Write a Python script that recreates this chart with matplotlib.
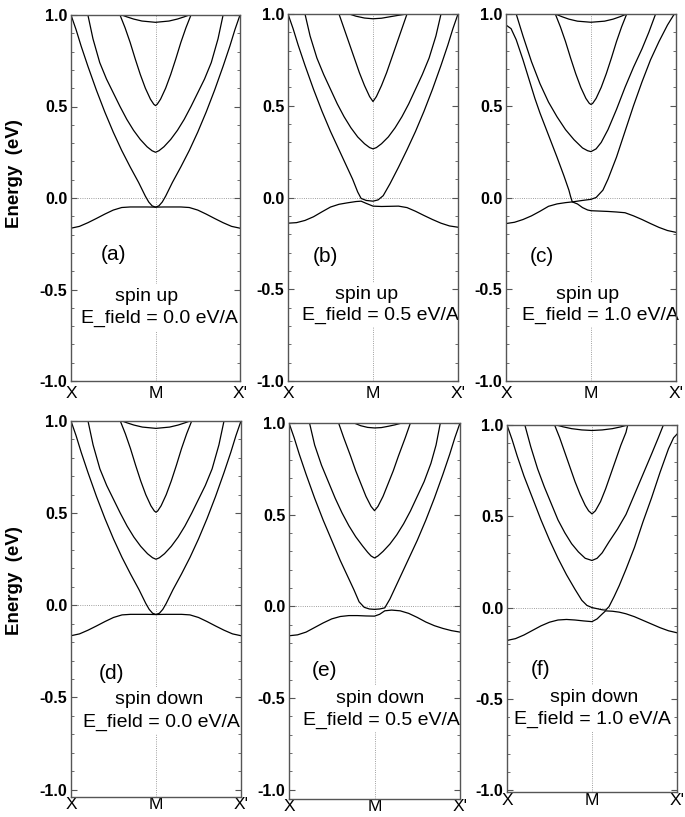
import matplotlib
matplotlib.use("Agg")
import matplotlib.pyplot as plt
from matplotlib.ticker import MultipleLocator

plt.rcParams['font.family'] = ['Liberation Sans', 'DejaVu Sans']
plt.rcParams['axes.unicode_minus'] = False

# k runs from X (0) through M (0.5) to X' (1); energies in eV
# (a) spin up, E = 0.0
a_b1 = [(0, -0.165), (0.05, -0.155), (0.1, -0.135), (0.15, -0.112), (0.2, -0.088), (0.25, -0.066),
        (0.3, -0.052), (0.35, -0.049), (0.4, -0.049), (0.45, -0.049), (0.5, -0.05), (0.55, -0.049),
        (0.6, -0.049), (0.65, -0.049), (0.7, -0.052), (0.75, -0.066), (0.8, -0.088), (0.85, -0.112),
        (0.9, -0.135), (0.95, -0.155), (1.0, -0.165)]
a_b2 = [(0, 1.0), (0.03, 0.92), (0.06, 0.83), (0.1, 0.72), (0.15, 0.59), (0.2, 0.47), (0.25, 0.36),
        (0.3, 0.26), (0.35, 0.17), (0.4, 0.085), (0.44, 0.01), (0.46, -0.022), (0.48, -0.043),
        (0.5, -0.05), (0.52, -0.043), (0.54, -0.022), (0.56, 0.01), (0.6, 0.085), (0.65, 0.17),
        (0.7, 0.26), (0.75, 0.36), (0.8, 0.47), (0.85, 0.59), (0.9, 0.72), (0.94, 0.83),
        (0.97, 0.92), (1.0, 1.0)]
a_b3 = [(0.1, 1.0), (0.13, 0.87), (0.17, 0.74), (0.21, 0.65), (0.25, 0.575), (0.29, 0.5), (0.33, 0.43),
        (0.37, 0.37), (0.41, 0.32), (0.45, 0.28), (0.48, 0.258), (0.5, 0.25), (0.52, 0.258),
        (0.55, 0.28), (0.59, 0.32), (0.63, 0.37), (0.67, 0.43), (0.71, 0.5), (0.75, 0.575),
        (0.79, 0.65), (0.83, 0.74), (0.87, 0.87), (0.9, 1.0)]
a_b4 = [(0.29, 1.0), (0.32, 0.93), (0.35, 0.85), (0.38, 0.76), (0.41, 0.675), (0.44, 0.6), (0.47, 0.54),
        (0.49, 0.512), (0.5, 0.505), (0.51, 0.512), (0.53, 0.54), (0.56, 0.6), (0.59, 0.675),
        (0.62, 0.76), (0.65, 0.85), (0.68, 0.93), (0.71, 1.0)]
a_b5 = [(0.3, 1.0), (0.33, 0.99), (0.37, 0.978), (0.42, 0.967), (0.5, 0.96), (0.58, 0.967),
        (0.63, 0.978), (0.67, 0.99), (0.7, 1.0)]

# (b) spin up, E = 0.5
b_b1 = [(0, -0.14), (0.05, -0.137), (0.1, -0.125), (0.15, -0.105), (0.2, -0.078), (0.25, -0.052),
        (0.3, -0.037), (0.35, -0.029), (0.4, -0.022), (0.43, -0.02), (0.46, -0.032), (0.5, -0.047),
        (0.55, -0.049), (0.6, -0.048), (0.65, -0.047), (0.7, -0.055), (0.75, -0.075), (0.8, -0.098),
        (0.85, -0.12), (0.9, -0.14), (0.95, -0.155), (1.0, -0.162)]
b_b2 = [(0, 1.0), (0.03, 0.92), (0.06, 0.83), (0.1, 0.72), (0.15, 0.59), (0.2, 0.47), (0.25, 0.36),
        (0.3, 0.26), (0.35, 0.16), (0.38, 0.1), (0.41, 0.03), (0.43, -0.005), (0.46, -0.016),
        (0.5, -0.02), (0.53, -0.013), (0.56, 0.01), (0.6, 0.075), (0.65, 0.165), (0.7, 0.26),
        (0.75, 0.36), (0.8, 0.47), (0.85, 0.59), (0.9, 0.72), (0.94, 0.83), (0.97, 0.92), (1.0, 1.0)]
b_b3 = [(0.1, 1.0), (0.13, 0.88), (0.17, 0.76), (0.21, 0.67), (0.25, 0.59), (0.29, 0.51), (0.33, 0.44),
        (0.37, 0.38), (0.41, 0.33), (0.45, 0.293), (0.48, 0.272), (0.5, 0.265), (0.52, 0.272),
        (0.55, 0.293), (0.59, 0.33), (0.63, 0.38), (0.67, 0.44), (0.71, 0.51), (0.75, 0.59),
        (0.79, 0.67), (0.83, 0.76), (0.87, 0.88), (0.9, 1.0)]
b_b4 = [(0.3, 1.0), (0.33, 0.92), (0.36, 0.84), (0.39, 0.76), (0.42, 0.68), (0.45, 0.61), (0.48, 0.55),
        (0.5, 0.523), (0.52, 0.55), (0.55, 0.61), (0.58, 0.68), (0.61, 0.76), (0.64, 0.84),
        (0.67, 0.92), (0.7, 1.0)]
b_b5 = [(0.36, 1.0), (0.4, 0.988), (0.45, 0.978), (0.5, 0.974), (0.55, 0.977), (0.6, 0.985),
        (0.65, 0.993), (0.7, 1.0)]

# (c) spin up, E = 1.0
c_b1 = [(0, -0.142), (0.05, -0.135), (0.1, -0.12), (0.15, -0.1), (0.2, -0.075), (0.25, -0.048),
        (0.3, -0.035), (0.35, -0.028), (0.39, -0.024), (0.42, -0.035), (0.45, -0.055), (0.48, -0.068),
        (0.5, -0.072), (0.55, -0.074), (0.6, -0.076), (0.65, -0.079), (0.7, -0.083), (0.75, -0.1),
        (0.8, -0.12), (0.85, -0.142), (0.9, -0.163), (0.95, -0.18), (1.0, -0.19)]
c_b2 = [(0, 0.94), (0.03, 0.92), (0.06, 0.86), (0.1, 0.75), (0.14, 0.63), (0.17, 0.54), (0.2, 0.46),
        (0.25, 0.34), (0.3, 0.22), (0.34, 0.12), (0.37, 0.04), (0.38, 0.005), (0.39, -0.024),
        (0.42, -0.02), (0.45, -0.016), (0.5, -0.01), (0.53, 0.0), (0.57, 0.04), (0.6, 0.1),
        (0.65, 0.22), (0.7, 0.36), (0.75, 0.5), (0.8, 0.63), (0.85, 0.75), (0.9, 0.85),
        (0.95, 0.94), (0.99, 1.0)]
c_b3 = [(0.06, 1.0), (0.1, 0.88), (0.15, 0.74), (0.2, 0.62), (0.25, 0.52), (0.3, 0.44), (0.35, 0.37),
        (0.4, 0.315), (0.45, 0.27), (0.48, 0.255), (0.5, 0.25), (0.53, 0.265), (0.56, 0.3),
        (0.6, 0.37), (0.65, 0.48), (0.7, 0.6), (0.75, 0.71), (0.8, 0.81), (0.84, 0.9), (0.88, 1.0)]
c_b4 = [(0.29, 1.0), (0.32, 0.93), (0.35, 0.85), (0.38, 0.76), (0.41, 0.675), (0.44, 0.6), (0.47, 0.54),
        (0.49, 0.513), (0.5, 0.507), (0.51, 0.513), (0.53, 0.54), (0.56, 0.6), (0.59, 0.675),
        (0.62, 0.76), (0.65, 0.85), (0.68, 0.93), (0.71, 1.0)]
c_b5 = [(0.29, 1.0), (0.33, 0.985), (0.37, 0.972), (0.42, 0.961), (0.5, 0.955), (0.58, 0.961),
        (0.63, 0.972), (0.67, 0.985), (0.71, 1.0)]

# (d) spin down, E = 0.0 reads the same as (a)

# (e) spin down, E = 0.5
e_b1 = [(0, -0.16), (0.05, -0.155), (0.1, -0.14), (0.15, -0.115), (0.2, -0.09), (0.25, -0.068),
        (0.3, -0.055), (0.35, -0.05), (0.4, -0.05), (0.45, -0.052), (0.5, -0.053), (0.53, -0.043),
        (0.56, -0.024), (0.6, -0.02), (0.65, -0.024), (0.7, -0.038), (0.75, -0.06), (0.8, -0.085),
        (0.85, -0.105), (0.9, -0.12), (0.95, -0.132), (1.0, -0.14)]
e_b2 = [(0, 1.0), (0.03, 0.92), (0.06, 0.83), (0.1, 0.72), (0.15, 0.59), (0.2, 0.47), (0.25, 0.36),
        (0.3, 0.25), (0.35, 0.15), (0.38, 0.09), (0.41, 0.025), (0.44, -0.005), (0.47, -0.014),
        (0.5, -0.016), (0.53, -0.014), (0.56, -0.008), (0.59, 0.04), (0.63, 0.12), (0.67, 0.2),
        (0.7, 0.26), (0.75, 0.36), (0.8, 0.47), (0.85, 0.59), (0.9, 0.72), (0.94, 0.83),
        (0.97, 0.92), (1.0, 1.0)]
e_b3 = [(0.12, 1.0), (0.15, 0.88), (0.19, 0.77), (0.23, 0.68), (0.27, 0.59), (0.31, 0.51), (0.35, 0.44),
        (0.39, 0.38), (0.43, 0.33), (0.46, 0.295), (0.48, 0.275), (0.5, 0.264), (0.52, 0.275),
        (0.55, 0.3), (0.59, 0.34), (0.63, 0.39), (0.67, 0.45), (0.71, 0.52), (0.75, 0.6),
        (0.79, 0.68), (0.83, 0.78), (0.86, 0.88), (0.885, 1.0)]
e_b4 = [(0.29, 1.0), (0.32, 0.92), (0.36, 0.82), (0.39, 0.74), (0.42, 0.67), (0.45, 0.6), (0.48, 0.545),
        (0.5, 0.522), (0.52, 0.545), (0.55, 0.6), (0.58, 0.67), (0.61, 0.74), (0.64, 0.82),
        (0.68, 0.92), (0.71, 1.0)]
e_b5 = [(0.38, 1.0), (0.42, 0.985), (0.46, 0.976), (0.5, 0.973), (0.54, 0.975), (0.58, 0.982),
        (0.62, 0.99), (0.66, 1.0)]

# (f) spin down, E = 1.0
f_b1 = [(0, -0.18), (0.05, -0.17), (0.1, -0.15), (0.15, -0.125), (0.2, -0.1), (0.25, -0.08),
        (0.3, -0.068), (0.35, -0.065), (0.4, -0.068), (0.45, -0.073), (0.5, -0.077), (0.53, -0.062),
        (0.56, -0.035), (0.58, -0.018), (0.62, -0.02), (0.66, -0.025), (0.7, -0.034), (0.75, -0.05),
        (0.8, -0.07), (0.85, -0.09), (0.9, -0.11), (0.95, -0.127), (1.0, -0.138)]
f_b2 = [(0, 1.0), (0.03, 0.92), (0.06, 0.83), (0.1, 0.72), (0.15, 0.6), (0.2, 0.48), (0.25, 0.37),
        (0.3, 0.27), (0.35, 0.18), (0.4, 0.1), (0.44, 0.04), (0.47, 0.012), (0.5, 0.0), (0.53, -0.006),
        (0.56, -0.012), (0.58, -0.014), (0.6, 0.005), (0.63, 0.06), (0.66, 0.12), (0.7, 0.21),
        (0.75, 0.33), (0.8, 0.47), (0.85, 0.6), (0.9, 0.74), (0.95, 0.87), (0.98, 0.93), (1.0, 0.95)]
f_b3 = [(0.105, 1.0), (0.14, 0.88), (0.18, 0.76), (0.22, 0.66), (0.26, 0.57), (0.3, 0.48), (0.34, 0.41),
        (0.38, 0.35), (0.42, 0.305), (0.46, 0.27), (0.5, 0.258), (0.53, 0.27), (0.56, 0.3),
        (0.6, 0.36), (0.65, 0.43), (0.7, 0.51), (0.75, 0.62), (0.8, 0.73), (0.85, 0.84),
        (0.89, 0.93), (0.92, 1.0)]
f_b4 = [(0.28, 1.0), (0.31, 0.93), (0.34, 0.85), (0.37, 0.77), (0.4, 0.69), (0.43, 0.62), (0.46, 0.56),
        (0.48, 0.53), (0.5, 0.513), (0.52, 0.53), (0.55, 0.58), (0.58, 0.65), (0.61, 0.73),
        (0.64, 0.81), (0.67, 0.89), (0.7, 0.96), (0.71, 1.0)]
f_b5 = [(0.29, 1.0), (0.33, 0.99), (0.38, 0.98), (0.44, 0.973), (0.5, 0.97), (0.56, 0.973),
        (0.62, 0.98), (0.67, 0.99), (0.71, 1.0)]

tags = ['(a)', '(b)', '(c)', '(d)', '(e)', '(f)']
spins = ['spin up'] * 3 + ['spin down'] * 3
fields = ['E_field = 0.0 eV/A', 'E_field = 0.5 eV/A', 'E_field = 1.0 eV/A'] * 2
kpath_ticks = [0, 0.5, 1]
kpath_labels = ['X', 'M', "X'"]

bands = [
    [a_b1, a_b2, a_b3, a_b4, a_b5],
    [b_b1, b_b2, b_b3, b_b4, b_b5],
    [c_b1, c_b2, c_b3, c_b4, c_b5],
    [a_b1, a_b2, a_b3, a_b4, a_b5],
    [e_b1, e_b2, e_b3, e_b4, e_b5],
    [f_b1, f_b2, f_b3, f_b4, f_b5],
]

# panel boxes in pixels: left, right, top, bottom; lower y limit; x-label pad (pt)
W, H = 685, 817
boxes = [(71, 240, 15, 381, -1.0, 3.5), (288, 458, 14, 381, -1.0, 3.5), (506, 676, 14, 381, -1.0, 3.5),
         (71, 241, 421, 797, -1.04, 0.3), (289, 460, 423, 799, -1.05, 0.0), (507, 677, 425, 792, -1.01, 0.8)]
# text spots (x in k units, y in eV): tag, spin, field
spots = [((0.25, -0.31), (0.45, -0.536), (0.526, -0.66)),
         ((0.218, -0.32), (0.463, -0.53), (0.546, -0.64)),
         ((0.21, -0.32), (0.48, -0.53), (0.553, -0.64)),
         ((0.24, -0.37), (0.52, -0.51), (0.53, -0.634)),
         ((0.21, -0.35), (0.53, -0.50), (0.54, -0.62)),
         ((0.195, -0.34), (0.51, -0.49), (0.50, -0.61))]

fig = plt.figure(figsize=(W / 100, H / 100), dpi=100)

for i in range(6):
    x0, x1, y0, y1, ylo, xpad = boxes[i]
    ax = fig.add_axes([x0 / W, 1 - y1 / H, (x1 - x0) / W, (y1 - y0) / H])
    ax.set_xlim(0, 1)
    ax.set_ylim(ylo, 1.0)

    ax.axhline(0, color='gray', lw=0.6, ls=':', zorder=1)
    ax.axvline(0.5, color='gray', lw=0.6, ls=':', zorder=1)

    for band in bands[i]:
        k = [p[0] for p in band]
        en = [p[1] for p in band]
        ax.plot(k, en, color='black', lw=0.9, zorder=2)

    tag_xy, spin_xy, field_xy = spots[i]
    ax.text(*tag_xy, tags[i], fontsize=15, ha='center', va='center')
    box = dict(facecolor='white', edgecolor='none', pad=2.5)
    ax.text(*spin_xy, spins[i], fontsize=14, ha='center', va='center', bbox=box, zorder=2.2)
    ax.text(*field_xy, fields[i], fontsize=14, ha='center', va='center', bbox=box, zorder=2.2,
            clip_on=False)

    ax.set_yticks([-1.0, -0.5, 0.0, 0.5, 1.0])
    ax.set_yticklabels(['-1.0', '-0.5', '0.0', '0.5', '1.0'], fontweight='bold', fontsize=11.5)
    ax.yaxis.set_minor_locator(MultipleLocator(0.1))
    ax.tick_params(axis='y', which='both', direction='in', left=True, right=True, color='#555555')
    ax.tick_params(axis='y', which='major', length=4, width=0.8, pad=2.5)
    ax.tick_params(axis='y', which='minor', length=2.5, width=0.6)
    ax.set_xticks(kpath_ticks)
    ax.set_xticklabels(kpath_labels, fontsize=12.5)
    ax.tick_params(axis='x', length=0, pad=xpad)
    for s in ax.spines.values():
        s.set_color('#555555')
        s.set_linewidth(1.0)

fig.text(15 / W, 1 - 174 / H, 'Energy  (eV)', rotation=90, fontsize=13.5, fontweight='bold',
         ha='center', va='center')
fig.text(15 / W, 1 - 581 / H, 'Energy  (eV)', rotation=90, fontsize=13.5, fontweight='bold',
         ha='center', va='center')

fig.savefig('out.png', dpi=100)
